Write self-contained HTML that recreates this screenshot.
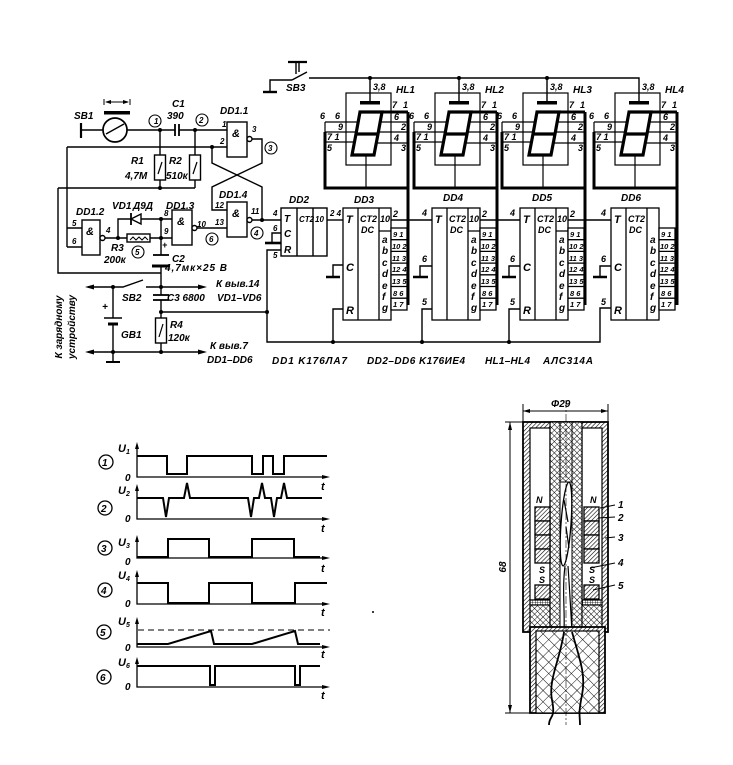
<!DOCTYPE html>
<html><head><meta charset="utf-8">
<style>
html,body{margin:0;padding:0;background:#fff;}
svg{display:block;}
text{font-family:"Liberation Sans",sans-serif;font-style:italic;font-weight:bold;fill:#000;stroke:none;}
</style></head><body>
<svg xmlns="http://www.w3.org/2000/svg" width="733" height="765" viewBox="0 0 733 765">
<defs>
<pattern id="hd" patternUnits="userSpaceOnUse" width="3" height="3" patternTransform="rotate(45)"><rect width="3" height="3" fill="#fff"/><line x1="0" y1="0" x2="0" y2="3" stroke="#000" stroke-width="1.2"/></pattern>
<pattern id="xh" patternUnits="userSpaceOnUse" width="4" height="4" patternTransform="rotate(45)"><rect width="4" height="4" fill="#fff"/><path d="M0,0V4M0,0H4" stroke="#000" stroke-width="0.9"/></pattern>
<pattern id="xb" patternUnits="userSpaceOnUse" width="8" height="8" patternTransform="rotate(45)"><rect width="8" height="8" fill="#fff"/><path d="M0,0V8M0,0H8" stroke="#000" stroke-width="0.9"/></pattern>
<pattern id="gr" patternUnits="userSpaceOnUse" width="2.5" height="2.5"><rect width="2.5" height="2.5" fill="#fff"/><path d="M0,0V2.5M0,0H2.5" stroke="#000" stroke-width="0.8"/></pattern>
</defs>
<rect width="733" height="765" fill="#fff"/>

<!-- ============ SCHEMATIC ============ -->
<g stroke="#000" stroke-width="1.4" fill="none">
<line x1="81" y1="123" x2="81" y2="138" stroke-width="2.2"/>
<line x1="81" y1="130" x2="103" y2="130"/>
<circle cx="115" cy="130" r="12" stroke-width="1.7"/>
<line x1="106" y1="134" x2="124" y2="124"/>
<line x1="127" y1="130" x2="175" y2="130"/>
<line x1="175" y1="124" x2="175" y2="136" stroke-width="1.8"/>
<line x1="179" y1="124" x2="179" y2="136" stroke-width="1.8"/>
<line x1="179" y1="130" x2="227" y2="130"/>
<rect x="104" y="111" width="26" height="3.5" fill="#000" stroke="none"/>
<line x1="106" y1="102" x2="128" y2="102" stroke-width="1"/>
<line x1="104" y1="99" x2="104" y2="105" stroke-width="1"/>
<line x1="130" y1="99" x2="130" y2="105" stroke-width="1"/>
<polygon points="105,102 111,100 111,104" fill="#000" stroke="none"/>
<polygon points="129,102 123,100 123,104" fill="#000" stroke="none"/>
<circle cx="155" cy="121" r="6" stroke-width="1.1"/>
<circle cx="202" cy="120" r="6" stroke-width="1.1"/>
<circle cx="271" cy="148" r="6" stroke-width="1.1"/>
<circle cx="257" cy="233" r="6" stroke-width="1.1"/>
<circle cx="138" cy="252" r="6" stroke-width="1.1"/>
<circle cx="212" cy="239" r="6" stroke-width="1.1"/>

<path d="M67,147H227M67,147V247M67,228H82M67,247H82"/>
<path d="M160,130V155M160,180V188M195,130V155M195,180V188M58,188H195M58,188V273H161"/>
<rect x="154.5" y="155" width="11" height="25"/>
<rect x="189.5" y="155" width="11" height="25"/>
<line x1="158" y1="174" x2="162" y2="162" stroke-width="1.2"/>
<line x1="193" y1="174" x2="197" y2="162" stroke-width="1.2"/>
<rect x="227" y="122" width="20" height="35"/>
<rect x="227" y="202" width="20" height="35"/>
<rect x="172" y="210" width="20" height="35"/>
<rect x="82" y="220" width="18" height="35"/>
<circle cx="249.5" cy="139" r="2.5" fill="#fff"/>
<circle cx="249.5" cy="220" r="2.5" fill="#fff"/>
<circle cx="194.5" cy="228" r="2.5" fill="#fff"/>
<circle cx="102.5" cy="238" r="2.5" fill="#fff"/>
<path d="M252,139H262V163L212,187V210H227"/>
<path d="M212,147V163L262,187V220"/>
<path d="M252,220H281"/>
<path d="M197,228H227"/>
<path d="M105,238H127M150,238H172M118,238V219H131M141,219H172"/>
<rect x="127" y="234" width="23" height="8"/>
<path d="M130,240l3,-3l3,3l3,-3l3,3l3,-3l3,3" stroke-width="1"/>
<line x1="131" y1="213" x2="131" y2="225" stroke-width="1.8"/>
<polygon points="131,219 141,214 141,224" fill="#fff"/>
<path d="M161,219V255M161,266V295M161,300V318M161,343V352"/>
<line x1="153" y1="255" x2="169" y2="255" stroke-width="1.8"/>
<line x1="152" y1="266" x2="170" y2="266" stroke-width="3"/>
<line x1="153" y1="295" x2="169" y2="295" stroke-width="1.8"/>
<line x1="153" y1="300" x2="169" y2="300" stroke-width="1.8"/>
<rect x="155.5" y="318" width="11" height="25"/>
<line x1="159" y1="337" x2="163" y2="324" stroke-width="1.2"/>
<path d="M161,312H267"/>
<path d="M88,287H123L143,280M146,287H202"/>
<polygon points="85,287 94,284.5 94,289.5" fill="#000" stroke="none"/>
<polygon points="207,287 198,284.5 198,289.5" fill="#000" stroke="none"/>
<path d="M88,352H202"/>
<polygon points="85,352 94,349.5 94,354.5" fill="#000" stroke="none"/>
<polygon points="207,352 198,349.5 198,354.5" fill="#000" stroke="none"/>
<path d="M113,287V318M113,324V362"/>
<line x1="104" y1="318" x2="122" y2="318" stroke-width="1.5"/>
<line x1="108" y1="324" x2="118" y2="324" stroke-width="3"/>
<line x1="106" y1="362" x2="120" y2="362" stroke-width="2"/>

<rect x="281" y="208" width="46" height="48"/>
<path d="M297,208V256M313,208V256"/>
<path d="M281,233H272V243"/>
<line x1="265" y1="243" x2="281" y2="243" stroke-width="2.6"/>
<path d="M281,250H267V342H600V308H611"/>
<path d="M327,220H343"/>
<path d="M391,220H432M480,220H520M568,220H611"/>
<path d="M343,265H333V276M432,266H420V276M520,266H509V276M611,266H600V276"/>
<path d="M326,277H340M413,277H428M502,277H516M593,277H607" stroke-width="2.6"/>
<path d="M343,309H333V342M432,309H422V342M520,309H509V342"/>

<path d="M292,80H270V92"/>
<line x1="263" y1="92" x2="277" y2="92" stroke-width="2.4"/>
<path d="M292,80L307,72"/>
<line x1="288" y1="62" x2="307" y2="62" stroke-width="2.2"/>
<path d="M296,62V74M299,62V72"/>
<path d="M309,78H639V101"/>
<path d="M370,78V101M459,78V101M547,78V101"/>
</g>

<g fill="#000">
<circle cx="160" cy="130" r="2"/><circle cx="195" cy="130" r="2"/><circle cx="212" cy="147" r="2"/>
<circle cx="160" cy="188" r="2"/><circle cx="262" cy="220" r="2"/><circle cx="118" cy="238" r="2"/>
<circle cx="161" cy="219" r="2"/><circle cx="161" cy="238" r="2"/><circle cx="113" cy="287" r="2"/>
<circle cx="161" cy="287" r="2"/><circle cx="161" cy="312" r="2"/><circle cx="113" cy="352" r="2"/>
<circle cx="161" cy="352" r="2"/><circle cx="267" cy="312" r="2"/><circle cx="333" cy="342" r="2"/>
<circle cx="422" cy="342" r="2"/><circle cx="509" cy="342" r="2"/><circle cx="370" cy="78" r="2"/>
<circle cx="459" cy="78" r="2"/><circle cx="547" cy="78" r="2"/>
</g>

<g transform="translate(370,0)" stroke="#000" fill="none" stroke-width="1.2">
<rect x="-10" y="101" width="20" height="3.5" fill="#000" stroke="none"/>
<rect x="-24" y="93" width="45" height="72"/>
<path d="M-10,112L12,112L8,134L-14,134ZM-14,134L8,134L4,155L-18,155Z" stroke-width="3.2" fill="#fff"/>
<path d="M-45,122H-12M-45,132H-14M-45,142H-15M-45,122V132"/>
<path d="M10,122H38M9,132H38M7,143H38"/>
<path d="M-4,155V188"/>
<path d="M-45,132V188H38M38,112V305M12,112H38" stroke-width="3"/>
<text x="3" y="90" font-size="9">3,8</text><text x="26" y="93" font-size="10">HL1</text>
<text x="-50" y="119" font-size="9">6</text><text x="-35" y="119" font-size="9">6</text>
<text x="-32" y="130" font-size="9">9</text><text x="-43" y="140" font-size="9">7 1</text>
<text x="-43" y="151" font-size="9">5</text><text x="22" y="108" font-size="9">7</text>
<text x="33" y="108" font-size="9">1</text><text x="24" y="120" font-size="9">6</text>
<text x="31" y="130" font-size="9">2</text><text x="24" y="141" font-size="9">4</text>
<text x="31" y="151" font-size="9">3</text>
</g>
<g transform="translate(459,0)" stroke="#000" fill="none" stroke-width="1.2">
<rect x="-10" y="101" width="20" height="3.5" fill="#000" stroke="none"/>
<rect x="-24" y="93" width="45" height="72"/>
<path d="M-10,112L12,112L8,134L-14,134ZM-14,134L8,134L4,155L-18,155Z" stroke-width="3.2" fill="#fff"/>
<path d="M-45,122H-12M-45,132H-14M-45,142H-15M-45,122V132"/>
<path d="M10,122H38M9,132H38M7,143H38"/>
<path d="M-4,155V188"/>
<path d="M-45,132V188H38M38,112V305M12,112H38" stroke-width="3"/>
<text x="3" y="90" font-size="9">3,8</text><text x="26" y="93" font-size="10">HL2</text>
<text x="-50" y="119" font-size="9">6</text><text x="-35" y="119" font-size="9">6</text>
<text x="-32" y="130" font-size="9">9</text><text x="-43" y="140" font-size="9">7 1</text>
<text x="-43" y="151" font-size="9">5</text><text x="22" y="108" font-size="9">7</text>
<text x="33" y="108" font-size="9">1</text><text x="24" y="120" font-size="9">6</text>
<text x="31" y="130" font-size="9">2</text><text x="24" y="141" font-size="9">4</text>
<text x="31" y="151" font-size="9">3</text>
</g>
<g transform="translate(547,0)" stroke="#000" fill="none" stroke-width="1.2">
<rect x="-10" y="101" width="20" height="3.5" fill="#000" stroke="none"/>
<rect x="-24" y="93" width="45" height="72"/>
<path d="M-10,112L12,112L8,134L-14,134ZM-14,134L8,134L4,155L-18,155Z" stroke-width="3.2" fill="#fff"/>
<path d="M-45,122H-12M-45,132H-14M-45,142H-15M-45,122V132"/>
<path d="M10,122H38M9,132H38M7,143H38"/>
<path d="M-4,155V188"/>
<path d="M-45,132V188H38M38,112V305M12,112H38" stroke-width="3"/>
<text x="3" y="90" font-size="9">3,8</text><text x="26" y="93" font-size="10">HL3</text>
<text x="-50" y="119" font-size="9">6</text><text x="-35" y="119" font-size="9">6</text>
<text x="-32" y="130" font-size="9">9</text><text x="-43" y="140" font-size="9">7 1</text>
<text x="-43" y="151" font-size="9">5</text><text x="22" y="108" font-size="9">7</text>
<text x="33" y="108" font-size="9">1</text><text x="24" y="120" font-size="9">6</text>
<text x="31" y="130" font-size="9">2</text><text x="24" y="141" font-size="9">4</text>
<text x="31" y="151" font-size="9">3</text>
</g>
<g transform="translate(639,0)" stroke="#000" fill="none" stroke-width="1.2">
<rect x="-10" y="101" width="20" height="3.5" fill="#000" stroke="none"/>
<rect x="-24" y="93" width="45" height="72"/>
<path d="M-10,112L12,112L8,134L-14,134ZM-14,134L8,134L4,155L-18,155Z" stroke-width="3.2" fill="#fff"/>
<path d="M-45,122H-12M-45,132H-14M-45,142H-15M-45,122V132"/>
<path d="M10,122H38M9,132H38M7,143H38"/>
<path d="M-4,155V188"/>
<path d="M-45,132V188H38M38,112V305M12,112H38" stroke-width="3"/>
<text x="3" y="90" font-size="9">3,8</text><text x="26" y="93" font-size="10">HL4</text>
<text x="-50" y="119" font-size="9">6</text><text x="-35" y="119" font-size="9">6</text>
<text x="-32" y="130" font-size="9">9</text><text x="-43" y="140" font-size="9">7 1</text>
<text x="-43" y="151" font-size="9">5</text><text x="22" y="108" font-size="9">7</text>
<text x="33" y="108" font-size="9">1</text><text x="24" y="120" font-size="9">6</text>
<text x="31" y="130" font-size="9">2</text><text x="24" y="141" font-size="9">4</text>
<text x="31" y="151" font-size="9">3</text>
</g>

<g transform="translate(343,0)" stroke="#000" fill="none" stroke-width="1.3">
<rect x="0" y="208" width="48" height="112" fill="#fff"/>
<path d="M15,208V320M36,208V320M36,231H48"/>
<rect x="48" y="228" width="16" height="82" fill="#fff"/>
<path d="M48,239.7H64M48,251.4H64M48,263.1H64M48,274.8H64M48,286.5H64M48,298.2H64"/>
<text x="3" y="223" font-size="11">T</text><text x="3" y="271" font-size="11">C</text><text x="3" y="314" font-size="11">R</text>
<text x="17" y="222" font-size="9">CT2</text><text x="18" y="233" font-size="9">DC</text><text x="37" y="222" font-size="9">10</text>
<text x="39" y="243" font-size="10">a</text><text x="39" y="254" font-size="10">b</text><text x="39" y="266" font-size="10">c</text><text x="39" y="277" font-size="10">d</text><text x="39" y="289" font-size="10">e</text><text x="39" y="300" font-size="10">f</text><text x="39" y="311" font-size="10">g</text>
<text x="50" y="237" font-size="7.5">9 1</text><text x="49" y="249" font-size="7.5">10 2</text><text x="49" y="261" font-size="7.5">11 3</text><text x="49" y="272" font-size="7.5">12 4</text><text x="49" y="284" font-size="7.5">13 5</text><text x="50" y="296" font-size="7.5">8 6</text><text x="50" y="307" font-size="7.5">1 7</text>
<text x="50" y="217" font-size="9">2</text>
</g>
<g transform="translate(432,0)" stroke="#000" fill="none" stroke-width="1.3">
<rect x="0" y="208" width="48" height="112" fill="#fff"/>
<path d="M15,208V320M36,208V320M36,231H48"/>
<rect x="48" y="228" width="16" height="82" fill="#fff"/>
<path d="M48,239.7H64M48,251.4H64M48,263.1H64M48,274.8H64M48,286.5H64M48,298.2H64"/>
<text x="3" y="223" font-size="11">T</text>
<text x="17" y="222" font-size="9">CT2</text><text x="18" y="233" font-size="9">DC</text><text x="37" y="222" font-size="9">10</text>
<text x="39" y="243" font-size="10">a</text><text x="39" y="254" font-size="10">b</text><text x="39" y="266" font-size="10">c</text><text x="39" y="277" font-size="10">d</text><text x="39" y="289" font-size="10">e</text><text x="39" y="300" font-size="10">f</text><text x="39" y="311" font-size="10">g</text>
<text x="50" y="237" font-size="7.5">9 1</text><text x="49" y="249" font-size="7.5">10 2</text><text x="49" y="261" font-size="7.5">11 3</text><text x="49" y="272" font-size="7.5">12 4</text><text x="49" y="284" font-size="7.5">13 5</text><text x="50" y="296" font-size="7.5">8 6</text><text x="50" y="307" font-size="7.5">1 7</text>
<text x="50" y="217" font-size="9">2</text>
<text x="-10" y="216" font-size="9">4</text><text x="-10" y="262" font-size="9">6</text><text x="-10" y="305" font-size="9">5</text>
</g>
<g transform="translate(520,0)" stroke="#000" fill="none" stroke-width="1.3">
<rect x="0" y="208" width="48" height="112" fill="#fff"/>
<path d="M15,208V320M36,208V320M36,231H48"/>
<rect x="48" y="228" width="16" height="82" fill="#fff"/>
<path d="M48,239.7H64M48,251.4H64M48,263.1H64M48,274.8H64M48,286.5H64M48,298.2H64"/>
<text x="3" y="223" font-size="11">T</text><text x="3" y="271" font-size="11">C</text><text x="3" y="314" font-size="11">R</text>
<text x="17" y="222" font-size="9">CT2</text><text x="18" y="233" font-size="9">DC</text><text x="37" y="222" font-size="9">10</text>
<text x="39" y="243" font-size="10">a</text><text x="39" y="254" font-size="10">b</text><text x="39" y="266" font-size="10">c</text><text x="39" y="277" font-size="10">d</text><text x="39" y="289" font-size="10">e</text><text x="39" y="300" font-size="10">f</text><text x="39" y="311" font-size="10">g</text>
<text x="50" y="237" font-size="7.5">9 1</text><text x="49" y="249" font-size="7.5">10 2</text><text x="49" y="261" font-size="7.5">11 3</text><text x="49" y="272" font-size="7.5">12 4</text><text x="49" y="284" font-size="7.5">13 5</text><text x="50" y="296" font-size="7.5">8 6</text><text x="50" y="307" font-size="7.5">1 7</text>
<text x="50" y="217" font-size="9">2</text>
<text x="-10" y="216" font-size="9">4</text><text x="-10" y="262" font-size="9">6</text><text x="-10" y="305" font-size="9">5</text>
</g>
<g transform="translate(611,0)" stroke="#000" fill="none" stroke-width="1.3">
<rect x="0" y="208" width="48" height="112" fill="#fff"/>
<path d="M15,208V320M36,208V320"/>
<rect x="48" y="228" width="16" height="82" fill="#fff"/>
<path d="M48,239.7H64M48,251.4H64M48,263.1H64M48,274.8H64M48,286.5H64M48,298.2H64"/>
<text x="3" y="223" font-size="11">T</text><text x="3" y="271" font-size="11">C</text><text x="3" y="314" font-size="11">R</text>
<text x="17" y="222" font-size="9">CT2</text><text x="18" y="233" font-size="9">DC</text>
<text x="39" y="243" font-size="10">a</text><text x="39" y="254" font-size="10">b</text><text x="39" y="266" font-size="10">c</text><text x="39" y="277" font-size="10">d</text><text x="39" y="289" font-size="10">e</text><text x="39" y="300" font-size="10">f</text><text x="39" y="311" font-size="10">g</text>
<text x="50" y="237" font-size="7.5">9 1</text><text x="49" y="249" font-size="7.5">10 2</text><text x="49" y="261" font-size="7.5">11 3</text><text x="49" y="272" font-size="7.5">12 4</text><text x="49" y="284" font-size="7.5">13 5</text><text x="50" y="296" font-size="7.5">8 6</text><text x="50" y="307" font-size="7.5">1 7</text>
<text x="-10" y="216" font-size="9">4</text><text x="-10" y="262" font-size="9">6</text><text x="-10" y="305" font-size="9">5</text>
</g>

<g font-size="10">
<text x="74" y="119">SB1</text>
<text x="172" y="107">C1</text>
<text x="167" y="119">390</text>
<text x="220" y="114">DD1.1</text>
<text x="222" y="127" font-size="8">1</text><text x="220" y="144" font-size="8">2</text><text x="252" y="132" font-size="8">3</text>
<text x="232" y="137" font-size="11">&amp;</text><text x="232" y="217" font-size="11">&amp;</text>
<text x="177" y="225" font-size="11">&amp;</text><text x="86" y="235" font-size="11">&amp;</text>
<text x="131" y="164">R1</text><text x="125" y="179">4,7M</text>
<text x="169" y="164">R2</text><text x="166" y="179">510к</text>
<text x="219" y="198">DD1.4</text>
<text x="215" y="208" font-size="8">12</text><text x="215" y="225" font-size="8">13</text><text x="251" y="214" font-size="8">11</text>
<text x="76" y="215">DD1.2</text>
<text x="72" y="226" font-size="8">5</text><text x="72" y="244" font-size="8">6</text><text x="106" y="233" font-size="8">4</text>
<text x="112" y="209">VD1</text><text x="133" y="209">Д9Д</text>
<text x="166" y="209">DD1.3</text>
<text x="164" y="216" font-size="8">8</text><text x="164" y="234" font-size="8">9</text><text x="197" y="227" font-size="8">10</text>
<text x="111" y="251">R3</text><text x="104" y="263">200к</text>
<text x="172" y="262">C2</text><text x="165" y="271" textLength="62">4,7мк×25 В</text>
<text x="162" y="248" font-size="9">+</text>
<text x="122" y="301">SB2</text>
<text x="167" y="301">C3 6800</text>
<text x="216" y="287">К выв.14</text>
<text x="217" y="301">VD1–VD6</text>
<text x="102" y="310">+</text>
<text x="121" y="338">GB1</text>
<text x="170" y="328">R4</text><text x="168" y="341">120к</text>
<text x="210" y="349">К выв.7</text>
<text x="207" y="363">DD1–DD6</text>
<text transform="translate(62,327) rotate(-90)" text-anchor="middle">К зарядному</text>
<text transform="translate(75,327) rotate(-90)" text-anchor="middle">устройству</text>
<text x="154" y="124" font-size="8" font-style="normal">1</text>
<text x="199" y="123" font-size="8" font-style="normal">2</text>
<text x="268" y="151" font-size="8" font-style="normal">3</text>
<text x="254" y="236" font-size="8" font-style="normal">4</text>
<text x="135" y="255" font-size="8" font-style="normal">5</text>
<text x="209" y="242" font-size="8" font-style="normal">6</text>
<text x="289" y="203">DD2</text>
<text x="284" y="222" font-size="10">T</text><text x="284" y="237" font-size="10">C</text><text x="284" y="253" font-size="10">R</text>
<text x="299" y="222" font-size="8">CT2</text><text x="315" y="222" font-size="8">10</text>
<text x="273" y="216" font-size="8">4</text><text x="273" y="231" font-size="8">6</text><text x="273" y="258" font-size="8">5</text>
<text x="330" y="216" font-size="8">2 4</text>
<text x="354" y="203">DD3</text><text x="443" y="201">DD4</text><text x="532" y="201">DD5</text><text x="621" y="201">DD6</text>
<text x="286" y="91">SB3</text>
<text x="272" y="364" textLength="75">DD1 K176ЛА7</text>
<text x="367" y="364" textLength="98">DD2–DD6 K176ИЕ4</text>
<text x="485" y="364" textLength="45">HL1–HL4</text>
<text x="543" y="364" textLength="50">АЛС314А</text>
</g>

<!-- ============ WAVEFORMS ============ -->
<g stroke="#000" fill="none" stroke-width="1.3">
<path d="M137,445V477H326M137,487V519H326M137,538V558H326M137,573V604H326M137,620V647H326M137,660V687H326"/>
</g>
<g fill="#000">
<polygon points="137,442 135,449 139,449"/><polygon points="137,484 135,491 139,491"/>
<polygon points="137,535 135,542 139,542"/><polygon points="137,570 135,577 139,577"/>
<polygon points="137,617 135,624 139,624"/><polygon points="137,657 135,664 139,664"/>
<polygon points="330,477 322,475 322,479"/><polygon points="330,519 322,517 322,521"/>
<polygon points="330,558 322,556 322,560"/><polygon points="330,604 322,602 322,606"/>
<polygon points="330,647 322,645 322,649"/><polygon points="330,687 322,685 322,689"/>
</g>
<g stroke="#000" fill="none" stroke-width="2">
<path d="M137,456H167V474H187V456H252V474H263V456H273V474H284V456H327"/>
<path d="M137,498H163L166,517L169,498H184L187,483L190,498H248L251,517L254,498H259L262,483L265,498H271L274,517L277,498H281L284,483L287,498H322"/>
<path d="M137,557H168V539H209V557H252V539H294V557H320"/>
<path d="M137,583H168V603H209V583H252V603H295V583H327"/>
<path d="M137,644H168L211,631L214,644H252L295,631L298,644H320"/>
<path d="M137,666H210V685H215V666H295V685H300V666H320"/>
</g>
<line x1="138" y1="630" x2="330" y2="630" stroke="#000" stroke-width="1" stroke-dasharray="6,4"/>
<g stroke="#000" fill="none" stroke-width="1.3">
<circle cx="106" cy="462" r="7"/><circle cx="105" cy="508" r="7"/><circle cx="105" cy="548" r="7"/>
<circle cx="105" cy="590" r="7"/><circle cx="104" cy="632" r="7"/><circle cx="104" cy="677" r="7"/>
</g>
<g font-size="10">
<text x="102" y="466" font-style="normal">1</text><text x="101" y="512" font-style="normal">2</text>
<text x="101" y="552" font-style="normal">3</text><text x="101" y="594" font-style="normal">4</text>
<text x="100" y="636" font-style="normal">5</text><text x="100" y="681" font-style="normal">6</text>
<text x="118" y="452" font-size="11">U<tspan font-size="7" dy="2">1</tspan></text>
<text x="118" y="494" font-size="11">U<tspan font-size="7" dy="2">2</tspan></text>
<text x="118" y="546" font-size="11">U<tspan font-size="7" dy="2">3</tspan></text>
<text x="118" y="579" font-size="11">U<tspan font-size="7" dy="2">4</tspan></text>
<text x="118" y="625" font-size="11">U<tspan font-size="7" dy="2">5</tspan></text>
<text x="118" y="666" font-size="11">U<tspan font-size="7" dy="2">6</tspan></text>
<text x="125" y="481">0</text><text x="125" y="522">0</text><text x="125" y="565">0</text>
<text x="125" y="607">0</text><text x="125" y="651">0</text><text x="125" y="690">0</text>
<text x="321" y="490" font-size="11">t</text><text x="321" y="532" font-size="11">t</text>
<text x="321" y="572" font-size="11">t</text><text x="321" y="616" font-size="11">t</text>
<text x="321" y="658" font-size="11">t</text><text x="321" y="699" font-size="11">t</text>
</g>

<!-- ============ CROSS-SECTION ============ -->
<g stroke="#000" stroke-width="1.2">
<path d="M523,404V422M608,404V422M523,411H608" fill="none" stroke-width="1"/>
<polygon points="523,411 530,409 530,413" fill="#000" stroke="none"/>
<polygon points="608,411 601,409 601,413" fill="#000" stroke="none"/>
<path d="M505,422H523M505,713H533M510,422V713" fill="none" stroke-width="1"/>
<polygon points="510,422 508,430 512,430" fill="#000" stroke="none"/>
<polygon points="510,713 508,705 512,705" fill="#000" stroke="none"/>
<rect x="523" y="422" width="85" height="210" fill="url(#hd)" stroke-width="1.8"/>
<rect x="530" y="428" width="20" height="172" fill="#fff"/>
<rect x="582" y="428" width="20" height="172" fill="#fff"/>
<rect x="530" y="600" width="20" height="5" fill="url(#gr)"/>
<rect x="582" y="600" width="20" height="5" fill="url(#gr)"/>
<rect x="530" y="605" width="72" height="27" fill="url(#xh)"/>
<rect x="550" y="422" width="32" height="210" fill="url(#xh)"/>
<rect x="560" y="482" width="12" height="150" fill="#fff" stroke-width="1"/>
<path d="M560,422V482M572,422V482" fill="none" stroke-width="1"/>
<g fill="url(#hd)" stroke-width="1.3">
<rect x="535" y="507" width="15" height="14"/><rect x="535" y="521" width="15" height="14"/>
<rect x="535" y="535" width="15" height="14"/><rect x="535" y="549" width="15" height="14"/>
<rect x="584" y="507" width="15" height="14"/><rect x="584" y="521" width="15" height="14"/>
<rect x="584" y="535" width="15" height="14"/><rect x="584" y="549" width="15" height="14"/>
<rect x="535" y="585" width="15" height="14"/><rect x="584" y="585" width="15" height="14"/>
</g>
<ellipse cx="566" cy="524" rx="5" ry="42" transform="rotate(4 566 524)" fill="#fff" stroke-width="1.3"/>
<path d="M564,500L568,522M566,527L569,548" fill="none" stroke-width="1.2"/>
<path d="M565,566C562,590 565,610 564,632M568,566C570,595 571,615 572,632" fill="none" stroke-width="1.2"/>
<rect x="530" y="627" width="75" height="86" fill="url(#hd)" stroke-width="1.8"/>
<rect x="536" y="631" width="63" height="82" fill="url(#xb)" stroke-width="1.2"/>
<path d="M564,632C560,660 548,680 552,700S549,715 549,725M572,632C580,660 586,675 582,695S580,715 580,725" fill="none" stroke-width="1.8"/>
<path d="M566,400V725" fill="none" stroke-width="0.6" stroke-dasharray="8,2,2,2"/>
<path d="M600,508L615,505M598,518L615,517M605,538L615,537M590,568L615,563M593,590L615,585" fill="none" stroke-width="0.9"/>
</g>
<g font-size="10">
<text x="551" y="407">Φ29</text>
<text transform="translate(506,567) rotate(-90)" text-anchor="middle">68</text>
<text x="536" y="503" font-size="9">N</text><text x="590" y="503" font-size="9">N</text>
<text x="539" y="573" font-size="9">S</text><text x="539" y="583" font-size="9">S</text>
<text x="589" y="573" font-size="9">S</text><text x="589" y="583" font-size="9">S</text>
<text x="618" y="508">1</text><text x="618" y="521">2</text><text x="618" y="541">3</text>
<text x="618" y="566">4</text><text x="618" y="589">5</text>
</g>
<circle cx="373" cy="612" r="1" fill="#000"/>
</svg>
</body></html>
